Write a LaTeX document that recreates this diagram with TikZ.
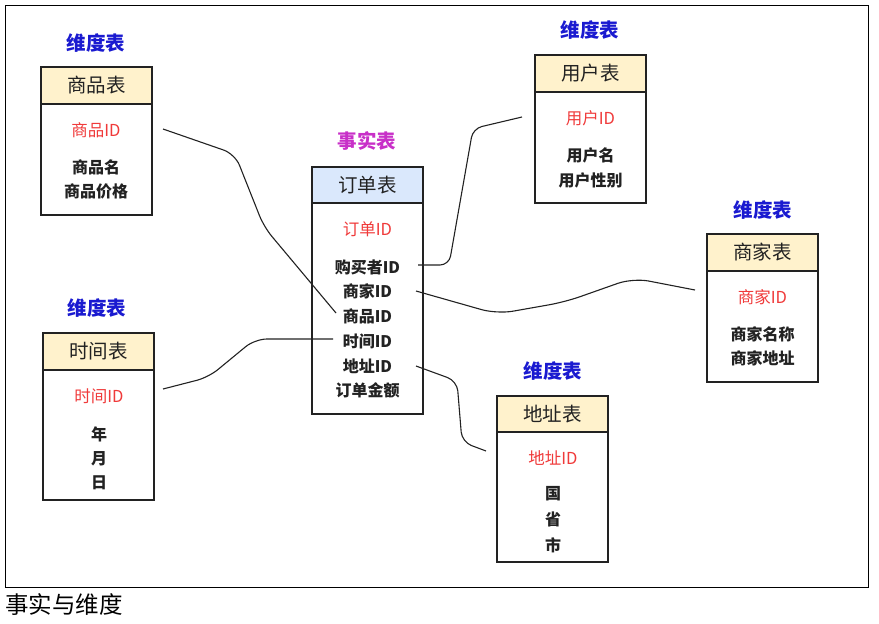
\documentclass[tikz,border=0pt]{standalone}
\usepackage{fontspec}
\newfontfamily\cjk{Noto Sans CJK SC}
\definecolor{dimblue}{HTML}{1A1AD0}
\definecolor{factmag}{HTML}{C830C8}
\definecolor{hdryellow}{HTML}{FFF2CC}
\definecolor{hdrblue}{HTML}{DAE8FC}
\definecolor{idred}{HTML}{F03A3A}
\definecolor{inkc}{HTML}{222222}
\begin{document}
\begin{tikzpicture}[x=1pt,y=-1pt]
\useasboundingbox (0,0) rectangle (879,624);
\tikzset{
  tbl/.style={draw=inkc, line width=1.2pt, minimum width=111pt, inner sep=0pt, outer sep=0pt, anchor=north west},
  hdr/.style={tbl, minimum height=37pt, font=\cjk\fontsize{19.5}{21}\selectfont, text=inkc},
  bodybox/.style={tbl, fill=white},
  lbl/.style={font=\cjk\bfseries\fontsize{19.5}{21}\selectfont, text=dimblue, inner sep=0pt},
  factlbl/.style={lbl, text=factmag},
  idf/.style={font=\cjk\fontsize{16.5}{18}\selectfont, text=idred, inner sep=0pt},
  fld/.style={font=\cjk\bfseries\fontsize{16}{18}\selectfont, text=inkc, inner sep=0pt},
  conn/.style={draw=inkc, line width=1.1pt, rounded corners=12pt},
}
% outer frame
\node[draw=black, line width=1.4pt, minimum width=863pt, minimum height=582pt, anchor=north west, inner sep=0pt] (frame) at (5,5) {};
\node[font=\cjk\fontsize{23.5}{25}\selectfont, anchor=west, inner sep=0pt] (caption) at (5,605) {事实与维度};

% product table
\node[lbl] (plbl) at (96,43) {维度表};
\node[hdr, fill=hdryellow] (ph) at (41,67) {商品表};
\node[bodybox, minimum height=111pt] (pb) at (ph.south west) {};
\node[idf] (pid) at (96,130) {商品ID};
\node[fld] (pname) at (96,167) {商品名};
\node[fld] (pprice) at (96,191) {商品价格};

% order table (fact)
\node[factlbl] (olbl) at (367,141) {事实表};
\node[hdr, fill=hdrblue, minimum height=36pt] (oh) at (312,167) {订单表};
\node[bodybox, minimum height=211pt] (ob) at (oh.south west) {};
\node[idf] (oid) at (367.5,229) {订单ID};
\node[fld] (obuyer) at (367.5,267) {购买者ID};
\node[fld] (oshop) at (367.5,291) {商家ID};
\node[fld] (oprod) at (367.5,316) {商品ID};
\node[fld] (otime) at (367.5,341) {时间ID};
\node[fld] (oaddr) at (367.5,366) {地址ID};
\node[fld] (oamt) at (367.5,390) {订单金额};

% user table
\node[lbl] (ulbl) at (590,30) {维度表};
\node[hdr, fill=hdryellow] (uh) at (535,55) {用户表};
\node[bodybox, minimum height=111pt] (ub) at (uh.south west) {};
\node[idf] (uid) at (590.5,118) {用户ID};
\node[fld] (uname) at (590.5,155) {用户名};
\node[fld] (usex) at (590.5,180) {用户性别};

% merchant table
\node[lbl] (mlbl) at (763,210) {维度表};
\node[hdr, fill=hdryellow] (mh) at (707,234) {商家表};
\node[bodybox, minimum height=111pt] (mb) at (mh.south west) {};
\node[idf] (mid) at (762.5,297) {商家ID};
\node[fld] (mname) at (762.5,334) {商家名称};
\node[fld] (maddr) at (762.5,358) {商家地址};

% time table
\node[lbl] (tlbl) at (97,308) {维度表};
\node[hdr, fill=hdryellow] (th) at (43,333) {时间表};
\node[bodybox, minimum height=130pt] (tb) at (th.south west) {};
\node[idf] (tid) at (99,396) {时间ID};
\node[fld] (ty) at (99,434) {年};
\node[fld] (tm) at (99,459) {月};
\node[fld] (td) at (99,483) {日};

% address table
\node[lbl] (albl) at (553,371) {维度表};
\node[hdr, fill=hdryellow, minimum height=36pt] (ah) at (497,396) {地址表};
\node[bodybox, minimum height=130pt] (ab) at (ah.south west) {};
\node[idf] (aid) at (553,458) {地址ID};
\node[fld] (ac) at (553,494) {国};
\node[fld] (ap) at (553,519) {省};
\node[fld] (aci) at (553,545) {市};

% connector end points
\coordinate (p1) at (163,129);
\coordinate (p2) at (336,313);
\coordinate (b1) at (418,265);
\coordinate (b2) at (522,117);
\coordinate (s1) at (416,291);
\coordinate (s2) at (695,290);
\coordinate (t1) at (163,389);
\coordinate (t2) at (333,339);
\coordinate (a1) at (416,366);
\coordinate (a2) at (486,451);

% connectors
\draw[conn] (p1) -- (235,154) -- (264,227) -- (p2);
\draw[conn, rounded corners=9pt] (b1) -- (449,265) -- (473,128.6) -- (b2);
\draw[conn, rounded corners=16pt] (s1) -- (497,314) -- (565,302) -- (633,278) -- (s2);
\draw[conn] (t1) -- (208.5,377.3) -- (255,339) -- (t2);
\draw[conn, rounded corners=10pt] (a1) -- (457,381) -- (462,442) -- (a2);
\end{tikzpicture}
\end{document}
